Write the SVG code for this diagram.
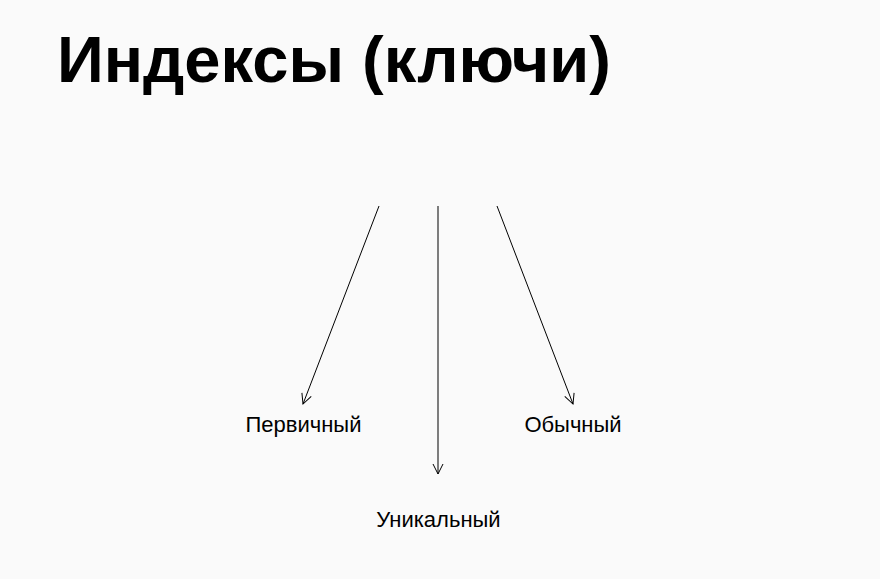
<svg xmlns="http://www.w3.org/2000/svg" width="880" height="579" viewBox="0 0 880 579">
<style>
.title{font-family:"Liberation Sans",Arial,sans-serif;font-size:65px;font-weight:bold;fill:#000}
.lbl{font-family:"Liberation Sans",Arial,sans-serif;font-size:22px;fill:#000;text-anchor:middle}
.edge{stroke:#000;stroke-width:1;fill:none;marker-end:url(#arr)}
</style>
<defs>
<marker id="arr" viewBox="0 0 12 12" refX="11" refY="6" markerWidth="12" markerHeight="12" markerUnits="userSpaceOnUse" orient="auto">
<path d="M1,1 L11,6 L1,11" fill="none" stroke="#000" stroke-width="1"/>
</marker>
</defs>
<rect width="880" height="579" fill="#fafafa"/>
<g id="title"><text class="title" x="57" y="82" textLength="554" lengthAdjust="spacingAndGlyphs">Индексы (ключи)</text></g>
<g id="connectors">
<line class="edge" x1="379" y1="206" x2="303" y2="404"/>
<line class="edge" x1="438" y1="206" x2="438" y2="474"/>
<line class="edge" x1="497" y1="206" x2="573" y2="404"/>
</g>
<g id="n-primary"><text class="lbl" x="303.5" y="432">Первичный</text></g>
<g id="n-unique"><text class="lbl" x="438.5" y="527">Уникальный</text></g>
<g id="n-regular"><text class="lbl" x="573" y="432">Обычный</text></g>
</svg>
